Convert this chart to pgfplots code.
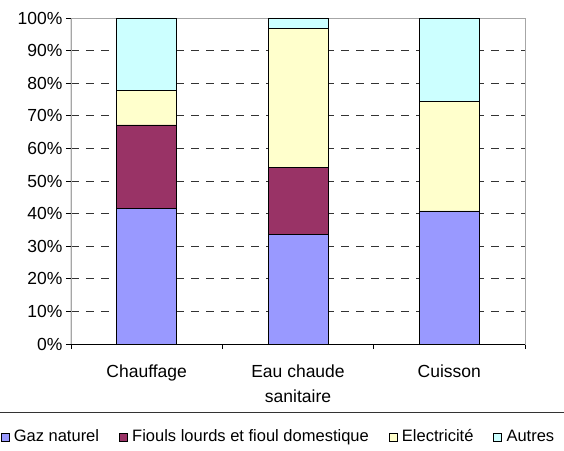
\documentclass[border=0pt]{standalone}
\usepackage{fontspec}
\setmainfont{Liberation Sans}
\usepackage{pgfplots}
\pgfplotsset{compat=1.18}
\definecolor{gaz}{HTML}{9999FF}
\definecolor{fioul}{HTML}{993366}
\definecolor{elec}{HTML}{FFFFCC}
\definecolor{autres}{HTML}{CCFFFF}
\begin{document}
\begin{tikzpicture}
\begin{axis}[
  at={(0pt,0pt)}, anchor=south west,
  scale only axis, width=454pt, height=326pt,
  ybar stacked, bar width=60pt,
  xmin=-0.5, xmax=2.5, ymin=0, ymax=100,
  xtick={0,1,2},
  xticklabels={Chauffage,{Eau chaude\\sanitaire},Cuisson},
  xticklabel style={align=center, font=\fontsize{17.5}{24.5}\selectfont, yshift=-12.5pt},
  minor xtick={-0.5,0.5,1.5,2.5},
  major x tick style={draw=none},
  ytick={0,10,...,100},
  yticklabel={\pgfmathprintnumber{\tick}\%},
  yticklabel style={font=\fontsize{17.5}{20}\selectfont},
  /pgf/number format/assume math mode=true,
  tick align=outside, major tick length=5pt, minor tick length=5pt,
  xtick pos=bottom, ytick pos=left,
  tick style={black, line width=0.8pt},
  axis line style={gray!70, line width=0.8pt},
  ymajorgrids,
  major grid style={black!80, dash pattern=on 8pt off 7pt, line width=0.8pt},
  legend columns=4,
  legend style={at={(0.457,-0.285)}, anchor=center, draw=none, fill=none,
    font=\fontsize{16.5}{19}\selectfont,
    nodes={text height=12pt, text depth=3.5pt},
    /tikz/every odd column/.append style={column sep=0pt},
    /tikz/every even column/.append style={column sep=18pt}},
  legend image code/.code={\draw[#1, draw=black, line width=0.6pt] (0pt,-4pt) rectangle (8pt,4pt);},
  legend cell align=left,
  every axis plot/.append style={draw=black, line width=0.8pt},
]
\addplot[fill=gaz] coordinates {(0,41.6) (1,33.6) (2,40.8)};
\addplot[fill=fioul] coordinates {(0,25.6) (1,20.5) (2,0)};
\addplot[fill=elec] coordinates {(0,10.5) (1,42.8) (2,33.5)};
\addplot[fill=autres] coordinates {(0,22.3) (1,3.1) (2,25.7)};
\legend{\hspace{2.5pt}Gaz naturel, \hspace{2.5pt}Fiouls lourds et fioul domestique, \hspace{2.5pt}Electricité, \hspace{2.5pt}Autres}
\draw[black, line width=1pt] (rel axis cs:0,0) -- (rel axis cs:0,1);
\draw[black, line width=1pt] (rel axis cs:0,0) -- (rel axis cs:1,0);
\end{axis}
\draw[black!80, line width=1pt] (-80pt,-68pt) -- (500pt,-68pt);
\pgfresetboundingbox
\path (-71pt,-106pt) rectangle (493pt,344pt);
\end{tikzpicture}
\end{document}
